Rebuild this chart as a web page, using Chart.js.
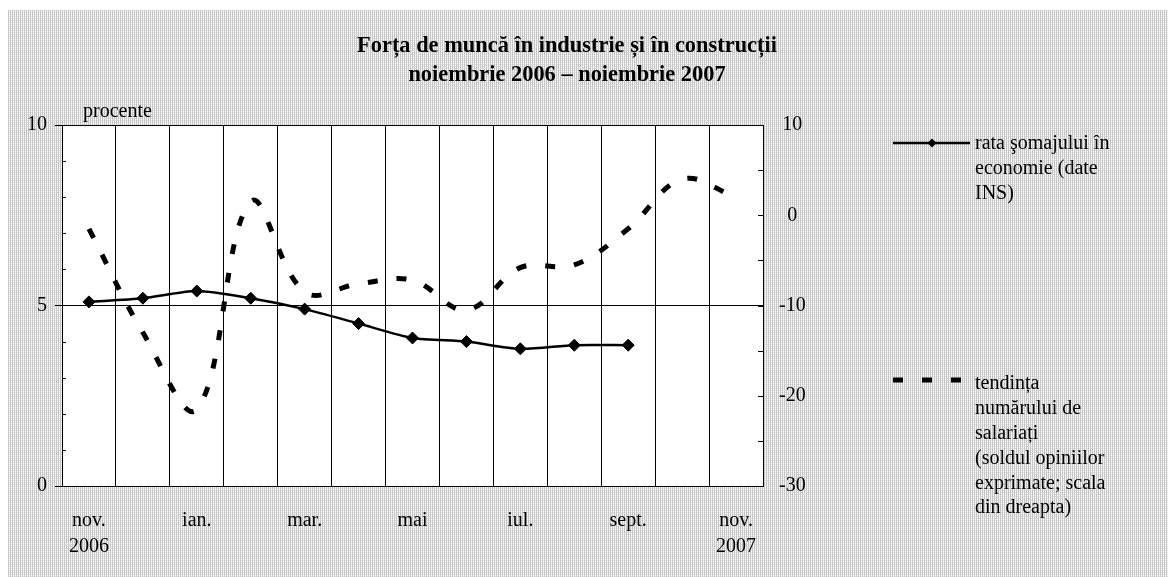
<!DOCTYPE html>
<html>
<head>
<meta charset="utf-8">
<script src="https://cdn.jsdelivr.net/npm/chart.js@4"></script>
<style>
  html, body { margin: 0; padding: 0; background: #fff; }
  #wrap { position: relative; width: 1168px; height: 577px; overflow: hidden; }
  #bg {
    position: absolute; left: 8px; top: 10px; right: 0; bottom: 0;
    background-color: #fff;
    background-image:
      repeating-linear-gradient(90deg, #c6c6c6 0 1px, transparent 1px 2px),
      repeating-linear-gradient(0deg, rgba(210,210,210,0.6) 0 1px, transparent 1px 2px);
  }
  canvas { position: absolute; left: 0; top: 0; }
</style>
</head>
<body>
<div id="wrap">
  <div id="bg"></div>
  <canvas id="chart" width="1168" height="577"></canvas>
</div>
<script>
// ===== DATA =====
const months = ['nov. 2006', 'dec.', 'ian.', 'feb.', 'mar.', 'apr.', 'mai', 'iun.', 'iul.', 'aug.', 'sept.', 'oct.', 'nov. 2007'];
const tickLabels = [['nov.', '2006'], '', 'ian.', '', 'mar.', '', 'mai', '', 'iul.', '', 'sept.', '', ['nov.', '2007']];

// rata somajului (procente, scala din stanga)
const unemployment = [5.1, 5.2, 5.4, 5.2, 4.9, 4.5, 4.1, 4.0, 3.8, 3.9, 3.9, null, null];
// tendinta numarului de salariati (sold, scala din dreapta)
const staffTrend = [-1.5, -13, -21.5, 1.5, -8.5, -7.6, -7.2, -10.5, -5.8, -5.5, -1.5, 4, 2];

const leftMinorTicks = [1, 2, 3, 4, 6, 7, 8, 9];
const rightMinorTicks = [-25, -20, -15, -10, -5, 0, 5];

const titleLines = ['Forța de muncă în industrie și în construcții', 'noiembrie 2006 – noiembrie 2007'];
const unitLabel = 'procente';
const legendSolid = ['rata şomajului în', 'economie (date', 'INS)'];
const legendDashed = ['tendința', 'numărului de', 'salariați', '(soldul opiniilor', 'exprimate; scala', 'din dreapta)'];

// ===== STYLE =====
const FONT = "'Liberation Serif', 'Times New Roman', serif";
const tickFont = { family: FONT, size: 20, lineHeight: 1.3 };
const DASH = [10, 19];

// ===== PLUGIN: plot frame, minor ticks, texts, legend =====
const decor = {
  id: 'decor',
  beforeDraw(chart) {
    const { ctx, chartArea: a } = chart;
    ctx.save();
    ctx.fillStyle = '#fff';
    ctx.fillRect(a.left, a.top, a.right - a.left, a.bottom - a.top);
    ctx.restore();
  },
  beforeDatasetsDraw(chart) {
    const { ctx, chartArea: a, scales } = chart;
    ctx.save();
    ctx.strokeStyle = '#000';
    ctx.lineWidth = 1;
    ctx.strokeRect(Math.round(a.left) + 0.5, Math.round(a.top) + 0.5,
      Math.round(a.right) - Math.round(a.left), Math.round(a.bottom) - Math.round(a.top));

    ctx.beginPath();
    leftMinorTicks.forEach(v => {
      const y = Math.round(scales.y.getPixelForValue(v)) + 0.5;
      ctx.moveTo(a.left, y);
      ctx.lineTo(a.left + 4, y);
    });
    rightMinorTicks.forEach(v => {
      const y = Math.round(scales.y1.getPixelForValue(v)) + 0.5;
      ctx.moveTo(a.right, y);
      ctx.lineTo(a.right - 5, y);
    });
    ctx.stroke();
    ctx.restore();
  },
  afterDraw(chart) {
    const { ctx } = chart;
    ctx.save();
    ctx.fillStyle = '#000';
    ctx.textBaseline = 'alphabetic';

    // title
    ctx.font = `bold 22.4px ${FONT}`;
    ctx.textAlign = 'center';
    ctx.fillText(titleLines[0], 567, 51.5);
    ctx.fillText(titleLines[1], 567, 81);

    // unit
    ctx.font = `20px ${FONT}`;
    ctx.textAlign = 'left';
    ctx.fillText(unitLabel, 83, 117);

    // legend: solid line with diamond
    ctx.strokeStyle = '#000';
    ctx.lineWidth = 2.5;
    ctx.beginPath();
    ctx.moveTo(893, 143);
    ctx.lineTo(970, 143);
    ctx.stroke();
    ctx.beginPath();
    ctx.moveTo(927.5, 143); ctx.lineTo(932, 138.5); ctx.lineTo(936.5, 143); ctx.lineTo(932, 147.5);
    ctx.closePath();
    ctx.fill();
    legendSolid.forEach((t, i) => ctx.fillText(t, 975, 149.3 + i * 25));

    // legend: dashed line
    ctx.lineWidth = 5;
    ctx.setLineDash(DASH);
    ctx.beginPath();
    ctx.moveTo(893, 380);
    ctx.lineTo(963, 380);
    ctx.stroke();
    ctx.setLineDash([]);
    legendDashed.forEach((t, i) => ctx.fillText(t, 975, 389.3 + i * 24.8));
    ctx.restore();
  }
};

// ===== CHART =====
const config = {
  type: 'line',
  data: {
    labels: months,
    datasets: [
      {
        label: 'rata şomajului în economie (date INS)',
        data: unemployment,
        yAxisID: 'y',
        borderColor: '#000',
        backgroundColor: '#000',
        borderWidth: 2.5,
        tension: 0.25,
        pointStyle: 'rectRot',
        pointRadius: 6,
        pointBorderWidth: 1,
        pointBackgroundColor: '#000'
      },
      {
        label: 'tendința numărului de salariați',
        data: staffTrend,
        yAxisID: 'y1',
        borderColor: '#000',
        borderWidth: 5,
        borderDash: DASH,
        tension: 0.38,
        pointRadius: 0
      }
    ]
  },
  options: {
    responsive: false,
    animation: false,
    devicePixelRatio: 1,
    layout: { padding: { top: 125, left: 0, right: 345, bottom: 0 } },
    plugins: {
      legend: { display: false },
      title: { display: false },
      tooltip: { enabled: false }
    },
    scales: {
      x: {
        offset: true,
        grid: { offset: true, color: '#000', lineWidth: 1, drawTicks: false },
        border: { display: true, color: '#000' },
        ticks: {
          autoSkip: false,
          maxRotation: 0,
          padding: 21.5,
          color: '#000',
          font: tickFont,
          callback: (v, i) => tickLabels[i]
        },
        afterFit: s => { s.height = 91; }
      },
      y: {
        position: 'left',
        min: 0,
        max: 10,
        ticks: { stepSize: 5, padding: 8, color: '#000', font: tickFont },
        grid: { color: '#000', lineWidth: 1, tickLength: 7 },
        border: { display: true, color: '#000' },
        afterFit: s => { s.width = 62; }
      },
      y1: {
        position: 'right',
        min: -30,
        max: 10,
        ticks: { stepSize: 10, padding: 16, crossAlign: 'center', color: '#000', font: tickFont },
        grid: { drawOnChartArea: false, drawTicks: false },
        border: { display: true, color: '#000' },
        afterFit: s => { s.width = 60; }
      }
    }
  },
  plugins: [decor]
};

new Chart(document.getElementById('chart'), config);
</script>
</body>
</html>
